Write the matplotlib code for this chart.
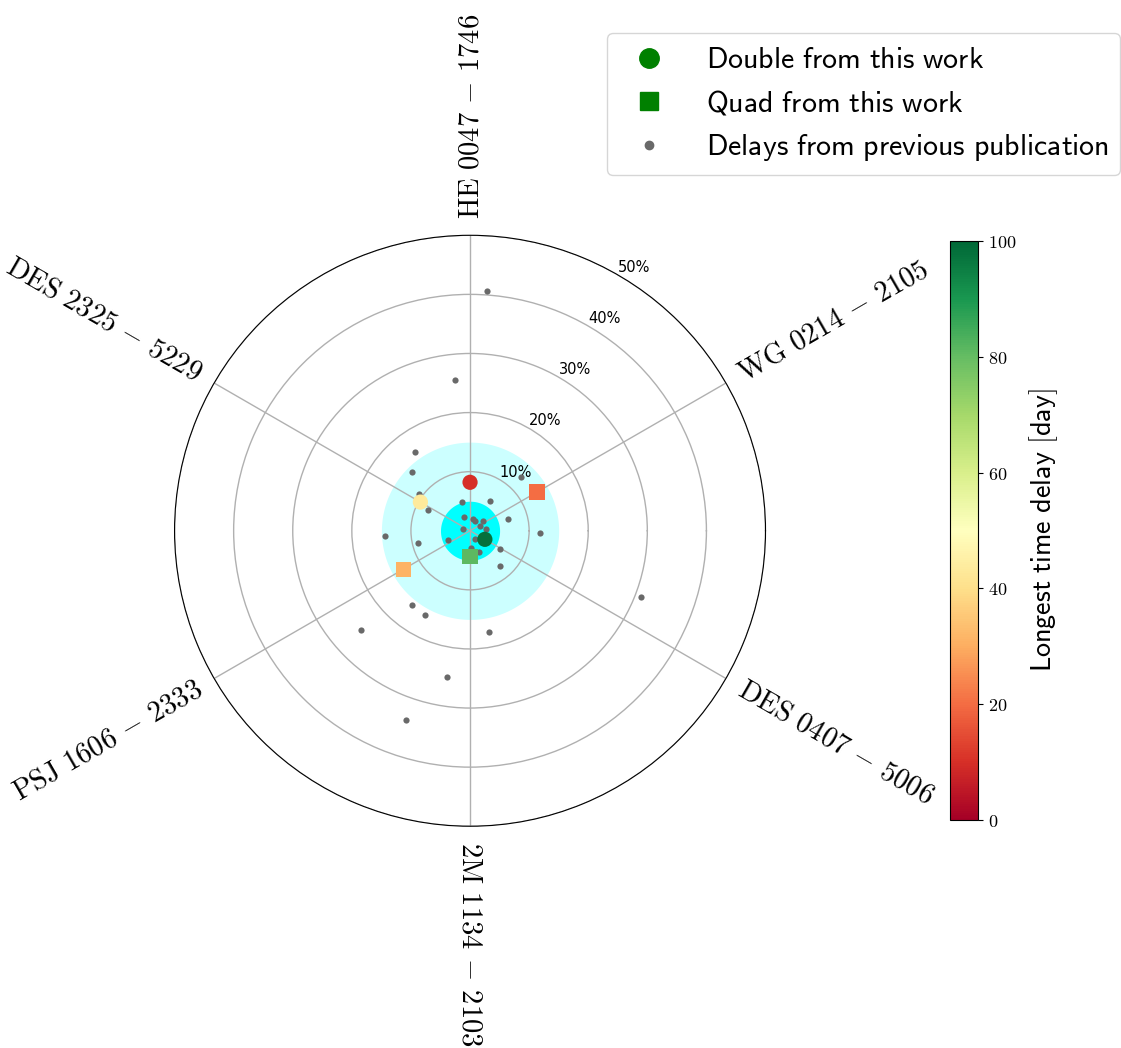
import numpy as np
import matplotlib
matplotlib.use('Agg')
import matplotlib.pyplot as plt
from matplotlib.lines import Line2D

plt.rcParams['mathtext.fontset'] = 'cm'

# lenses from this work: name, angle (deg), relative precision (%), longest delay (day), type
lens_names = ['HE 0047-1746', 'WG 0214-2105', 'DES 0407-5006',
              '2M 1134-2103', 'PSJ 1606-2333', 'DES 2325-5229']
lens_angles = [90, 30, 330, 270, 210, 150]
lens_precision = [8.2, 13.1, 2.9, 4.4, 13.0, 9.7]
lens_delay = [10, 20, 98, 81, 31, 43]
lens_type = ['double', 'quad', 'double', 'quad', 'quad', 'double']

# delays from previous publications: angle (deg), precision (%)
prev_angles = [124.8, 134.7, 46.8, 144.1, 154.1, 105.6, 55.8, 17.4, 114.2, 76.7,
               62.0, 36.1, 26.6, 7.1, 166.0, 358.1, 183.4, 203.9, 300.2, 193.0,
               329.2, 273.3, 292.2, 310.1, 232.0, 241.7, 280.6, 222.3, 261.1, 251.3,
               85.9, 95.5, 338.8]
prev_precision = [16.2, 13.9, 12.5, 10.6, 8.0, 5.0, 6.0, 6.8, 2.6, 2.0,
                  1.8, 2.8, 1.9, 2.7, 1.2, 11.8, 14.4, 4.0, 1.7, 9.0,
                  6.0, 3.0, 3.9, 7.9, 15.9, 16.2, 17.4, 24.9, 25.1, 33.8,
                  40.6, 25.7, 31.1]

# shaded precision zones (%)
inner_zone = 5
outer_zone = 15
r_max = 50
r_ticks = [10, 20, 30, 40, 50]

fig = plt.figure(figsize=(11.21, 10.48), dpi=100)
ax = fig.add_axes([0.1557, 0.2116, 0.5272, 0.5639], projection='polar')

circ = np.linspace(0, 2 * np.pi, 400)
ax.fill_between(circ, 0, outer_zone, color='cyan', alpha=0.2, lw=0, zorder=0.5)
ax.fill_between(circ, 0, inner_zone, color='cyan', alpha=1.0, lw=0, zorder=0.6)

ax.scatter(np.deg2rad(prev_angles), prev_precision, s=20, color='dimgray',
           lw=0, zorder=3)

cmap = plt.get_cmap('RdYlGn')
for kind, mk in [('double', 'o'), ('quad', 's')]:
    idx = [i for i, t in enumerate(lens_type) if t == kind]
    sc = ax.scatter(np.deg2rad([lens_angles[i] for i in idx]),
                    [lens_precision[i] for i in idx],
                    c=[lens_delay[i] for i in idx], cmap=cmap, vmin=0, vmax=100,
                    marker=mk, s=120, lw=0, zorder=4)

ax.set_xlim(0, 2 * np.pi)
ax.set_ylim(0, r_max)
ax.set_yticks(r_ticks)
ax.set_yticklabels([f'{t}%' for t in r_ticks], fontsize=10.5)
ax.set_rlabel_position(60)
ax.set_xticks(np.deg2rad(lens_angles))
ax.set_xticklabels([])
ax.grid(True, color='#b0b0b0', lw=1)

# rotated lens labels outside the circle
for name, ang in zip(lens_names, lens_angles):
    a = ang % 360
    if a == 270:
        rot, ha = -90, 'left'
    elif 90 < a < 270:
        rot, ha = a - 180, 'right'
    else:
        rot, ha = a, 'left'
    a1, a2 = name.split('-')
    ax.text(np.deg2rad(ang), r_max * 1.054,
            r'$\mathrm{' + a1.replace(' ', r'\ ') + r'\,-\,' + a2 + '}$',
            rotation=rot, rotation_mode='anchor', ha=ha, va='center',
            fontsize=20.6)

# colorbar
cax = fig.add_axes([0.8475, 0.2176, 0.025, 0.5525])
cb = fig.colorbar(sc, cax=cax)
cb.set_ticks([0, 20, 40, 60, 80, 100])
cb.set_ticklabels([rf'${v}$' for v in [0, 20, 40, 60, 80, 100]])
cb.ax.tick_params(labelsize=13)
cb.set_label(r'$\mathsf{Longest\ time\ delay\ [day]}$', fontsize=20.3, labelpad=8)

handles = [
    Line2D([], [], marker='o', color='green', ls='', ms=14),
    Line2D([], [], marker='s', color='green', ls='', ms=13),
    Line2D([], [], marker='o', color='dimgray', ls='', ms=6),
]
labels = [r'$\mathsf{Double\ from\ this\ work}$',
          r'$\mathsf{Quad\ from\ this\ work}$',
          r'$\mathsf{Delays\ from\ previous\ publication}$']
fig.legend(handles, labels, loc='upper right', bbox_to_anchor=(0.9995, 0.9685),
           bbox_transform=fig.transFigure, borderaxespad=0, fontsize=21.5,
           handlelength=2.0, handletextpad=0.9, labelspacing=0.49, borderpad=0.4)

fig.savefig('out.png', dpi=100)
